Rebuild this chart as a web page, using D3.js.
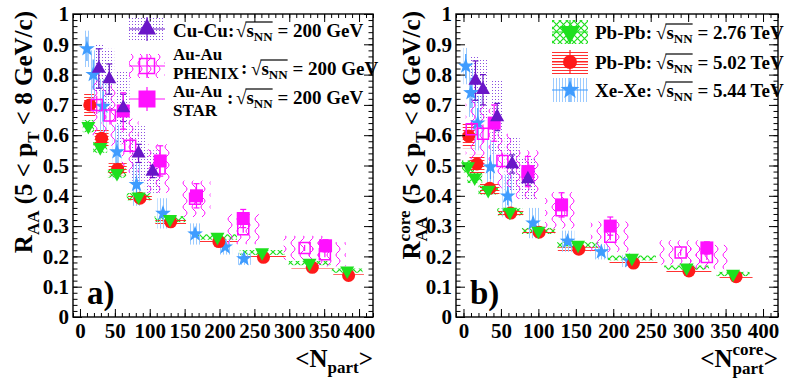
<!DOCTYPE html>
<html>
<head>
<meta charset="utf-8">
<script src="https://cdn.jsdelivr.net/npm/d3@7"></script>
<style>
  body { margin: 0; background: #fff; }
  text { font-family: "Liberation Serif", "Times New Roman", serif; font-weight: bold; fill: #000; }
</style>
</head>
<body>
<svg id="chart" width="789" height="386"></svg>
<script>
// -------- Data: panel a) vs <Npart> --------
const xTicks = [0, 50, 100, 150, 200, 250, 300, 350, 400];
const yTicks = [0, 0.1, 0.2, 0.3, 0.4, 0.5, 0.6, 0.7, 0.8, 0.9, 1];

const a_pb276_N    = [12, 29, 53, 84, 129, 197, 261, 329, 383];
const a_pb276_R    = [0.630, 0.560, 0.475, 0.397, 0.323, 0.264, 0.213, 0.178, 0.153];
const a_pb276_stat = [0.010, 0.008, 0.006, 0.005, 0.004, 0.003, 0.003, 0.002, 0.002];
const a_pb276_sys  = [0.020, 0.018, 0.015, 0.012, 0.010, 0.009, 0.008, 0.007, 0.007];
const a_pb276_dN   = [8, 10, 13, 17, 22, 28, 32, 30, 22];

const a_pb502_N    = [14, 31, 54, 86, 130, 199, 263, 333, 385];
const a_pb502_R    = [0.700, 0.590, 0.488, 0.392, 0.314, 0.249, 0.197, 0.164, 0.137];
const a_pb502_stat = [0.012, 0.008, 0.006, 0.005, 0.004, 0.003, 0.003, 0.002, 0.002];
const a_pb502_sys  = [0.040, 0.030, 0.020, 0.012, 0.008, 0.006, 0.005, 0.004, 0.004];
const a_pb502_dN   = [8, 10, 13, 17, 22, 28, 32, 30, 22];

const a_xe_N    = [10, 19, 33, 53, 81, 119, 165, 208, 235];
const a_xe_R    = [0.885, 0.800, 0.695, 0.545, 0.437, 0.342, 0.274, 0.231, 0.192];
const a_xe_stat = [0.040, 0.050, 0.050, 0.040, 0.030, 0.020, 0.012, 0.010, 0.006];
const a_xe_sys  = [0.060, 0.080, 0.090, 0.090, 0.070, 0.050, 0.035, 0.025, 0.020];
const a_xe_dN   = [3, 4, 5, 6, 7, 8, 9, 10, 10];

const a_cu_N    = [27, 42, 62, 84, 104];
const a_cu_R    = [0.820, 0.785, 0.690, 0.540, 0.480];
const a_cu_stat = [0.065, 0.050, 0.045, 0.030, 0.020];
const a_cu_sys  = [0.080, 0.100, 0.120, 0.090, 0.070];
const a_cu_dN   = [6, 7, 9, 10, 11];

const a_star_N    = [62, 115, 167, 234, 352];
const a_star_R    = [0.680, 0.515, 0.400, 0.325, 0.235];
const a_star_stat = [0.060, 0.050, 0.040, 0.030, 0.020];

const a_phx_N    = [24, 43, 72, 114, 165, 234, 322, 351];
const a_phx_R    = [0.700, 0.665, 0.565, 0.490, 0.390, 0.290, 0.228, 0.207];
const a_phx_stat = [0.030, 0.030, 0.025, 0.020, 0.015, 0.012, 0.010, 0.010];
const a_phx_sys  = [0.100, 0.100, 0.090, 0.080, 0.060, 0.050, 0.040, 0.040];
const a_phx_dN   = [8, 10, 12, 16, 22, 26, 30, 30];

// -------- Data: panel b) vs <Npart core> --------
const b_pb276_N = [6, 15, 33, 62, 100, 153, 225, 298, 360];
const b_pb276_R = [0.497, 0.460, 0.419, 0.347, 0.284, 0.238, 0.195, 0.163, 0.142];
const b_pb502_N = [7, 18, 35, 63, 101, 154, 227, 301, 364];
const b_pb502_R = [0.597, 0.505, 0.425, 0.343, 0.280, 0.224, 0.178, 0.152, 0.133];
const b_xe_N    = [3, 10, 19, 36, 59, 93, 139, 184, 222];
const b_xe_R    = [0.828, 0.740, 0.640, 0.495, 0.399, 0.310, 0.250, 0.215, 0.185];
const b_cu_N    = [16, 26, 45, 65, 86];
const b_cu_R    = [0.780, 0.750, 0.660, 0.505, 0.455];
const b_star_N  = [41, 86, 131, 196, 325];
const b_star_R  = [0.640, 0.480, 0.370, 0.300, 0.228];
const b_phx_N   = [11, 26, 52, 86, 131, 196, 290, 325];
const b_phx_R   = [0.620, 0.605, 0.515, 0.470, 0.352, 0.265, 0.213, 0.198];

// -------- Colours --------
const C = {
  green: '#1ee01e', red: '#ff1a1a', blue: '#3f9cff', lblue: '#9ccbff',
  purple: '#6a16c8', dots: '#8a4fe0', magenta: '#ff10ff'
};

const svg = d3.select('#chart');
const defs = svg.append('defs');

// -------- Fill patterns (ROOT hatches) --------
function pattern(id, w, h) {
  return defs.append('pattern').attr('id', id)
    .attr('patternUnits', 'userSpaceOnUse').attr('width', w).attr('height', h);
}
const pGreen = pattern('hGreen', 7, 7);
pGreen.append('path').attr('d', 'M0,0L7,7M7,0L0,7').attr('stroke', C.green).attr('stroke-width', 1.2);
const pRed = pattern('hRed', 4, 3);
pRed.append('line').attr('x1', 0).attr('x2', 4).attr('y1', 1.5).attr('y2', 1.5).attr('stroke', C.red).attr('stroke-width', 0.9);
const pBlue = pattern('hBlue', 3, 4);
pBlue.append('line').attr('x1', 1.5).attr('x2', 1.5).attr('y1', 0).attr('y2', 4).attr('stroke', C.lblue).attr('stroke-width', 1);
const pDots = pattern('hDots', 3, 3);
pDots.append('rect').attr('width', 1).attr('height', 1).attr('fill', C.dots);
const pWave = pattern('hWave', 9, 12);
pWave.append('path').attr('d', 'M5,0Q1,3 5,6Q9,9 5,12').attr('fill', 'none')
  .attr('stroke', C.magenta).attr('stroke-width', 1);

// -------- Marker shapes --------
function markerPath(type, s) {
  const h = s / 2;
  if (type === 'tri')  return `M0,${-s * 0.6}L${h},${s * 0.3}L${-h},${s * 0.3}Z`;
  if (type === 'itri') return `M0,${s * 0.6}L${h},${-s * 0.3}L${-h},${-s * 0.3}Z`;
  if (type === 'sq')   return `M${-h},${-h}h${s}v${s}h${-s}Z`;
  if (type === 'osq')  return `M${-h + 1},${-h + 1}h${s - 2}v${s - 2}h${-(s - 2)}Z`;
  if (type === 'circ') return `M${h},0A${h},${h} 0 1,1 ${-h},0A${h},${h} 0 1,1 ${h},0Z`;
  if (type === 'star') {
    const pts = d3.range(10).map(i => {
      const r = i % 2 ? s * 0.22 : s * 0.55, a = i * Math.PI / 5 - Math.PI / 2;
      return [r * Math.cos(a), r * Math.sin(a)];
    });
    return 'M' + pts.join('L') + 'Z';
  }
}

// superscript and subscript stacked after a base glyph; returns shift back to baseline
function stacked(t, sup, sub, size, up, down) {
  const a = t.append('tspan').attr('font-size', size).attr('dy', -up).text(sup);
  const supLen = a.node().getComputedTextLength();
  const b = t.append('tspan').attr('font-size', size).attr('dx', -supLen).attr('dy', up + down).text(sub);
  const subLen = b.node().getComputedTextLength();
  return { gap: Math.max(0, supLen - subLen), back: -down };
}

// -------- Panels --------
const panels = [
  { x0: 73, x1: 373, label: 'a)', core: false,
    series: [
      { N: a_pb276_N, R: a_pb276_R, stat: a_pb276_stat, sys: a_pb276_sys, dN: a_pb276_dN, fill: 'hGreen', color: C.green, m: 'itri', ms: 14, order: 3 },
      { N: a_pb502_N, R: a_pb502_R, stat: a_pb502_stat, sys: a_pb502_sys, dN: a_pb502_dN, fill: 'hRed', color: C.red, m: 'circ', ms: 13, order: 2 },
      { N: a_xe_N, R: a_xe_R, stat: a_xe_stat, sys: a_xe_sys, dN: a_xe_dN, fill: 'hBlue', color: C.blue, m: 'star', ms: 15, order: 1 },
      { N: a_phx_N, R: a_phx_R, stat: a_phx_stat, sys: a_phx_sys, dN: a_phx_dN, fill: 'hWave', color: C.magenta, m: 'osq', ms: 13, open: true, order: 4 },
      { N: a_cu_N, R: a_cu_R, stat: a_cu_stat, sys: a_cu_sys, dN: a_cu_dN, fill: 'hDots', color: C.purple, m: 'tri', ms: 14, cap: true, order: 6 },
      { N: a_star_N, R: a_star_R, stat: a_star_stat, color: C.magenta, m: 'sq', ms: 13, cap: true, order: 5 }
    ] },
  { x0: 456, x1: 778, label: 'b)', core: true,
    series: [
      { N: b_pb276_N, R: b_pb276_R, stat: a_pb276_stat, sys: a_pb276_sys, dN: a_pb276_dN, fill: 'hGreen', color: C.green, m: 'itri', ms: 14, order: 3 },
      { N: b_pb502_N, R: b_pb502_R, stat: a_pb502_stat, sys: a_pb502_sys, dN: a_pb502_dN, fill: 'hRed', color: C.red, m: 'circ', ms: 13, order: 2 },
      { N: b_xe_N, R: b_xe_R, stat: a_xe_stat, sys: a_xe_sys, dN: a_xe_dN, fill: 'hBlue', color: C.blue, m: 'star', ms: 15, order: 1 },
      { N: b_phx_N, R: b_phx_R, stat: a_phx_stat, sys: a_phx_sys, dN: a_phx_dN, fill: 'hWave', color: C.magenta, m: 'osq', ms: 13, open: true, order: 4 },
      { N: b_cu_N, R: b_cu_R, stat: a_cu_stat, sys: a_cu_sys, dN: a_cu_dN, fill: 'hDots', color: C.purple, m: 'tri', ms: 14, cap: true, order: 6 },
      { N: b_star_N, R: b_star_R, stat: a_star_stat, color: C.magenta, m: 'sq', ms: 13, cap: true, order: 5 }
    ] }
];

const yTop = 14, yBot = 317;
const FS = 21;

panels.forEach(p => {
  const x = d3.scaleLinear().domain([-10, 420]).range([p.x0, p.x1]);
  const y = d3.scaleLinear().domain([0, 1]).range([yBot, yTop]);
  const g = svg.append('g');

  // systematic boxes
  p.series.filter(s => s.sys).forEach(s => {
    g.append('g').selectAll('rect')
      .data(s.N.map((n, i) => ({ n, r: s.R[i], e: s.sys[i], w: s.dN[i] })))
      .join('rect')
        .attr('x', d => x(d.n - d.w)).attr('width', d => x(d.n + d.w) - x(d.n - d.w))
        .attr('y', d => y(d.r + d.e)).attr('height', d => y(d.r - d.e) - y(d.r + d.e))
        .attr('fill', `url(#${s.fill})`);
  });

  // statistical error bars
  p.series.forEach(s => {
    const eg = g.append('g').attr('stroke', s.color).attr('stroke-width', 1.2);
    s.N.forEach((n, i) => {
      eg.append('line').attr('x1', x(n)).attr('x2', x(n))
        .attr('y1', y(s.R[i] + s.stat[i])).attr('y2', y(s.R[i] - s.stat[i]));
      if (s.cap) {
        [s.R[i] + s.stat[i], s.R[i] - s.stat[i]].forEach(v =>
          eg.append('line').attr('x1', x(n) - 3).attr('x2', x(n) + 3).attr('y1', y(v)).attr('y2', y(v)));
      }
    });
  });

  // markers
  p.series.slice().sort((a, b) => a.order - b.order).forEach(s => {
    g.append('g').selectAll('path')
      .data(s.N.map((n, i) => [n, s.R[i]]))
      .join('path')
        .attr('transform', d => `translate(${x(d[0])},${y(d[1])})`)
        .attr('d', markerPath(s.m, s.ms))
        .attr('fill', s.open ? 'none' : s.color)
        .attr('stroke', s.open ? s.color : 'none')
        .attr('stroke-width', 1.5);
  });

  // axes: ticks inside, mirrored on top/right
  const ax = svg.append('g');
  const xMinor = d3.range(-10, 421, 10), yMinor = d3.range(0, 1.001, 0.02);
  const mk = (axis, tv, size, fmt, tr) => {
    const a = ax.append('g').attr('transform', tr)
      .call(axis.tickValues(tv).tickSize(size).tickPadding(6).tickFormat(fmt));
    a.select('.domain').remove();
    a.selectAll('line').attr('stroke', '#000').attr('stroke-width', 1);
    a.attr('font-family', null).attr('font-size', FS);
    return a;
  };
  mk(d3.axisBottom(x), xMinor, -4, '', `translate(0,${yBot})`);
  mk(d3.axisTop(x), xMinor, -4, '', `translate(0,${yTop})`);
  mk(d3.axisTop(x), xTicks, -8, '', `translate(0,${yTop})`);
  mk(d3.axisBottom(x), xTicks, -8, d3.format('d'), `translate(0,${yBot})`);
  mk(d3.axisLeft(y), yMinor, -4.5, '', `translate(${p.x0},0)`);
  mk(d3.axisRight(y), yMinor, -4.5, '', `translate(${p.x1},0)`);
  mk(d3.axisRight(y), yTicks, -9, '', `translate(${p.x1},0)`);
  const yl = mk(d3.axisLeft(y), yTicks, -9, d => d === 0 || d === 1 ? d3.format('d')(d) : d3.format('.1f')(d), `translate(${p.x0},0)`);
  yl.selectAll('text').attr('x', -4);

  ax.append('rect').attr('x', p.x0).attr('y', yTop)
    .attr('width', p.x1 - p.x0).attr('height', yBot - yTop)
    .attr('fill', 'none').attr('stroke', '#000').attr('stroke-width', 1.4);

  // panel label
  svg.append('text').attr('x', p.x0 + 14).attr('y', 304)
    .attr('font-size', 33).text(p.label);

  // y title
  const yt = svg.append('text')
    .attr('transform', `translate(${p.core ? p.x0 - 36 : p.x0 - 41},11) rotate(-90)`)
    .attr('text-anchor', 'end').attr('font-size', 25);
  yt.append('tspan').text('R');
  if (p.core) {
    const st = stacked(yt, 'core', 'AA', 17, 10, 7);
    yt.append('tspan').attr('dx', st.gap).attr('dy', st.back).text(' (5 < p');
  } else {
    yt.append('tspan').attr('font-size', 17).attr('dy', 7).text('AA');
    yt.append('tspan').attr('dy', -7).text(' (5 < p');
  }
  yt.append('tspan').attr('font-size', 17).attr('dy', 7).text('T');
  yt.append('tspan').attr('dy', -7).text(' < 8 GeV/c)');

  // x title
  const xt = svg.append('text').attr('x', p.x1).attr('y', 367)
    .attr('text-anchor', 'end').attr('font-size', 25);
  xt.append('tspan').text('<N');
  if (p.core) {
    const st = stacked(xt, 'core', 'part', 17, 12, 7);
    xt.append('tspan').attr('dx', st.gap).attr('dy', st.back).text('>');
  } else {
    xt.append('tspan').attr('font-size', 17).attr('dy', 6).text('part');
    xt.append('tspan').attr('dy', -6).text('>');
  }
});

// -------- Legends --------
const LF = 19;
function sqrtS(x, y, rest) {
  const t = svg.append('text').attr('x', x).attr('y', y).attr('font-size', LF);
  t.append('tspan').text('\u221A');
  t.append('tspan').text('s');
  t.append('tspan').attr('font-size', 13).attr('dy', 4).text('NN');
  t.append('tspan').attr('dy', -4).text(' = ' + rest);
  const n = t.node();
  const r0 = n.getExtentOfChar(0), r3 = n.getExtentOfChar(3);
  svg.append('line').attr('x1', r0.x + r0.width - 1).attr('x2', r3.x + r3.width)
    .attr('y1', r0.y + 2).attr('y2', r0.y + 2).attr('stroke', '#000').attr('stroke-width', 1.2);
}
function legendSym(cx, cy, box, fill, color, m, ms, open) {
  if (box) {
    svg.append('rect').attr('x', cx - 18).attr('y', cy - 12).attr('width', 36).attr('height', 24)
      .attr('fill', `url(#${fill})`);
  }
  svg.append('line').attr('x1', cx - 18).attr('x2', cx + 18).attr('y1', cy).attr('y2', cy)
    .attr('stroke', color).attr('stroke-width', 1.2);
  svg.append('line').attr('x1', cx).attr('x2', cx).attr('y1', cy - 12).attr('y2', cy + 12)
    .attr('stroke', color).attr('stroke-width', 1.2);
  svg.append('path').attr('transform', `translate(${cx},${cy})`).attr('d', markerPath(m, ms))
    .attr('fill', open ? 'none' : color).attr('stroke', open ? color : 'none').attr('stroke-width', 1.5);
}
function txt(x, y, s, size) {
  svg.append('text').attr('x', x).attr('y', y).attr('font-size', size || LF).text(s);
}

legendSym(147, 29, true, 'hDots', C.purple, 'tri', 18);
txt(173, 37, 'Cu-Cu:');
sqrtS(236, 37, '200 GeV');
legendSym(147, 66, true, 'hWave', C.magenta, 'osq', 17, true);
txt(173, 60, 'Au-Au', 17);
txt(173, 79, 'PHENIX', 17);
txt(241, 74, ':');
sqrtS(251, 75, '200 GeV');
legendSym(147, 99, false, null, C.magenta, 'sq', 17);
txt(173, 97, 'Au-Au', 17);
txt(173, 116, 'STAR', 17);
txt(227, 104, ':');
sqrtS(236, 104, '200 GeV');

legendSym(570, 32, true, 'hGreen', C.green, 'itri', 20);
txt(595, 39, 'Pb-Pb:');
sqrtS(656, 39, '2.76 TeV');
legendSym(570, 62, true, 'hRed', C.red, 'circ', 14);
txt(595, 69, 'Pb-Pb:');
sqrtS(656, 69, '5.02 TeV');
legendSym(570, 90, true, 'hBlue', C.blue, 'star', 18);
txt(595, 97, 'Xe-Xe:');
sqrtS(656, 97, '5.44 TeV');
</script>
</body>
</html>
